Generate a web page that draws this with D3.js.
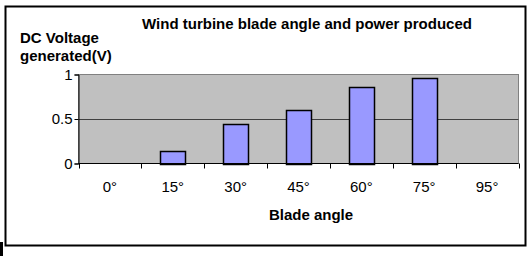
<!DOCTYPE html>
<html>
<head>
<meta charset="utf-8">
<style>
  body { margin: 0; padding: 0; background: white; }
  svg { display: block; font-family: "Liberation Sans", Arial, sans-serif; }
</style>
</head>
<body>
<div id="chart"></div>
<script src="https://d3js.org/d3.v7.min.js"></script>
<script>
// chart data
var angles = ["0°", "15°", "30°", "45°", "60°", "75°", "95°"]
var voltages = [0, 0.14, 0.44, 0.6, 0.86, 0.96, 0]
var yTicks = [0, 0.5, 1]

var width = 532, height = 256

var svg = d3.select("#chart").append("svg")
    .attr("width", width)
    .attr("height", height)

// outer chart border
svg.append("rect")
    .attr("x", 5.5).attr("y", 6.5)
    .attr("width", 520).attr("height", 239)
    .attr("fill", "white")
    .attr("stroke", "black")
    .attr("stroke-width", 2)

// little mark in the bottom-left corner
svg.append("rect")
    .attr("x", 0).attr("y", 242)
    .attr("width", 3).attr("height", 14)
    .attr("fill", "black")

var plot = {left: 78.5, right: 518.5, top: 74.5, bottom: 163.5}

var x = d3.scaleBand()
    .domain(angles)
    .range([plot.left, plot.right])
    .paddingInner(0).paddingOuter(0)

var y = d3.scaleLinear()
    .domain([0, 1])
    .range([plot.bottom, plot.top])

// plot area
svg.append("rect")
    .attr("x", plot.left).attr("y", plot.top)
    .attr("width", plot.right - plot.left)
    .attr("height", plot.bottom - plot.top)
    .attr("fill", "#c0c0c0")
    .attr("stroke", "#808080")
    .attr("stroke-width", 1)

// gridlines
svg.append("g")
    .selectAll("line")
    .data(yTicks.filter(function (d) { return d > 0 && d < 1 }))
    .enter().append("line")
    .attr("x1", plot.left).attr("x2", plot.right)
    .attr("y1", function (d) { return Math.round(y(d)) + 0.5 })
    .attr("y2", function (d) { return Math.round(y(d)) + 0.5 })
    .attr("stroke", "#404040")

// bars
var barW = 25
svg.append("g")
    .selectAll("rect")
    .data(voltages.map(function (v, i) { return {angle: angles[i], value: v} })
      .filter(function (d) { return d.value > 0 }))
    .enter().append("rect")
    .attr("x", function (d) { return Math.round(x(d.angle) + (x.bandwidth() - barW) / 2) + 0.5 })
    .attr("y", function (d) { return Math.round(y(d.value)) + 0.5 })
    .attr("width", barW)
    .attr("height", function (d) { return Math.round(y(0)) - Math.round(y(d.value)) })
    .attr("fill", "#9999ff")
    .attr("stroke", "black")
    .attr("stroke-width", 1.5)

// y axis
var yAxis = svg.append("g")
    .attr("transform", "translate(" + plot.left + ",0)")
    .call(d3.axisLeft(y).tickValues(yTicks).tickSize(4).tickPadding(2).tickFormat(d3.format("")))
yAxis.select(".domain").attr("stroke", "black")
yAxis.selectAll("line").attr("stroke", "black")
yAxis.selectAll("text").attr("font-size", 15).attr("fill", "black").attr("font-family", "Liberation Sans, Arial, sans-serif")

// x axis: ticks at category boundaries
var xAxis = svg.append("g")
    .attr("transform", "translate(0," + plot.bottom + ")")
xAxis.append("line")
    .attr("x1", plot.left).attr("x2", plot.right)
    .attr("stroke", "black")
xAxis.selectAll(".tick")
    .data(angles.concat(["end"]))
    .enter().append("line")
    .attr("x1", function (d, i) { return Math.round(plot.left + i * x.bandwidth()) + 0.5 })
    .attr("x2", function (d, i) { return Math.round(plot.left + i * x.bandwidth()) + 0.5 })
    .attr("y1", 0).attr("y2", 5)
    .attr("stroke", "black")
xAxis.selectAll("text")
    .data(angles)
    .enter().append("text")
    .attr("x", function (d) { return x(d) + x.bandwidth() / 2 })
    .attr("y", 28.5)
    .attr("text-anchor", "middle")
    .attr("font-size", 15)
    .text(function (d) { return d })

// titles
svg.append("text")
    .attr("x", 307).attr("y", 29)
    .attr("text-anchor", "middle")
    .attr("font-size", 15).attr("font-weight", "bold")
    .text("Wind turbine blade angle and power produced")

svg.append("text")
    .attr("x", 20).attr("y", 43)
    .attr("font-size", 15).attr("font-weight", "bold")
    .text("DC Voltage")
svg.append("text")
    .attr("x", 20).attr("y", 61)
    .attr("font-size", 15).attr("font-weight", "bold")
    .text("generated(V)")

svg.append("text")
    .attr("x", 311).attr("y", 220)
    .attr("text-anchor", "middle")
    .attr("font-size", 15).attr("font-weight", "bold")
    .text("Blade angle")
</script>
</body>
</html>
